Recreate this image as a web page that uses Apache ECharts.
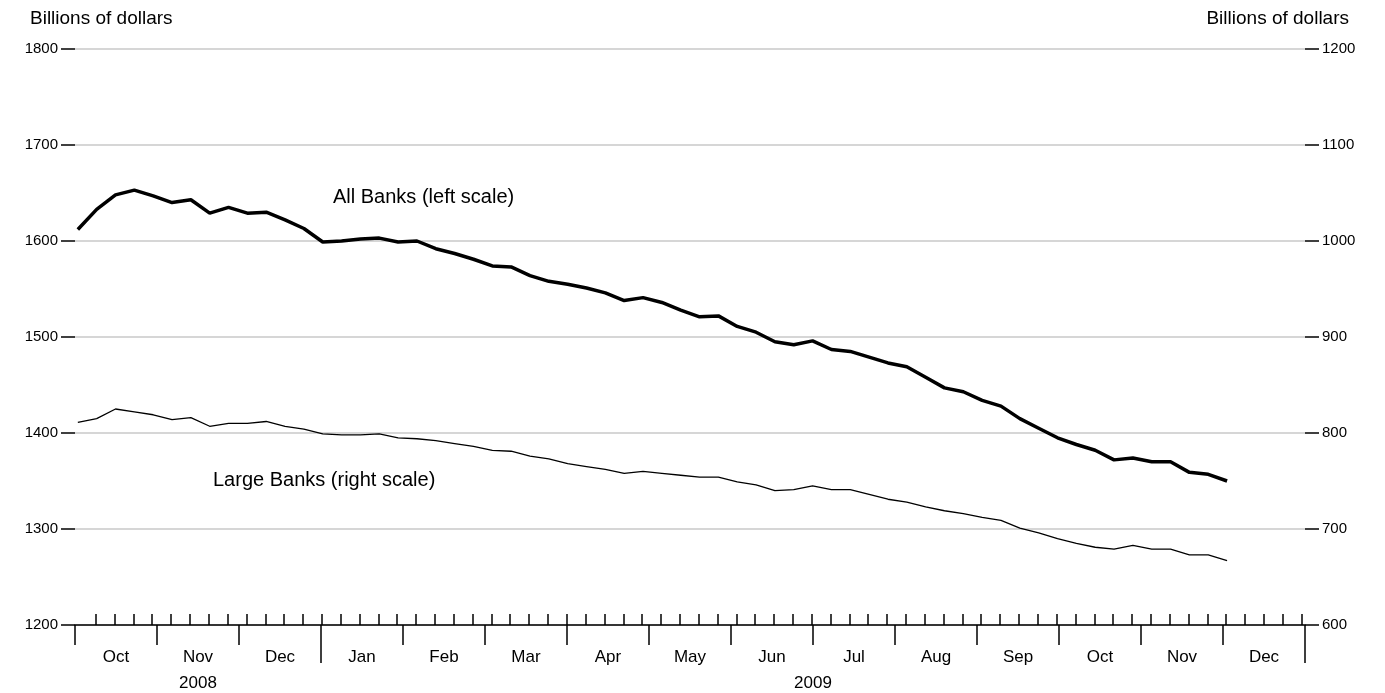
<!DOCTYPE html>
<html>
<head>
<meta charset="utf-8">
<script src="https://cdn.jsdelivr.net/npm/echarts@6/dist/echarts.min.js"></script>
<style>html,body{margin:0;padding:0;background:#fff}#chart{width:1385px;height:693px}</style>
</head>
<body>
<div id="chart"></div>
<script>
/*月份标签*/
var months = ['Oct', 'Nov', 'Dec', 'Jan', 'Feb', 'Mar', 'Apr', 'May', 'Jun', 'Jul', 'Aug', 'Sep', 'Oct', 'Nov', 'Dec'];
var years = [{pos: 1.5, label: '2008'}, {pos: 9, label: '2009'}];
/*全部银行 (左轴), 每周*/
var allBanks = [1612, 1633, 1648, 1653, 1647, 1640, 1643, 1629, 1635, 1629, 1630, 1622, 1613, 1599, 1600, 1602,
	1603, 1599, 1600, 1592, 1587, 1581, 1574, 1573, 1564, 1558, 1555, 1551, 1546, 1538, 1541, 1536, 1528, 1521,
	1522, 1511, 1505, 1495, 1492, 1496, 1487, 1485, 1479, 1473, 1469, 1458, 1447, 1443, 1434, 1428, 1415, 1405,
	1395, 1388, 1382, 1372, 1374, 1370, 1370, 1359, 1357, 1350];
/*大型银行 (右轴)*/
var largeBanks = [811, 815, 825, 822, 819, 814, 816, 807, 810, 810, 812, 807, 804, 799, 798, 798, 799, 795, 794,
	792, 789, 786, 782, 781, 776, 773, 768, 765, 762, 758, 760, 758, 756, 754, 754, 749, 746, 740, 741, 745, 741,
	741, 736, 731, 728, 723, 719, 716, 712, 709, 701, 696, 690, 685, 681, 679, 683, 679, 679, 673, 673, 667];

var totalWeeks = 457 / 7;
var weekTicks = [];
for(var w = 1.1; w < totalWeeks; w += 1) {
	weekTicks.push(w);
}
var monthTicks = [];
var monthLabelPos = [];
for(var m = 0; m <= months.length; m++) {
	monthTicks.push(m);
	if(m < months.length) monthLabelPos.push(m + 0.5);
}
function toPoints(arr) {
	return arr.map(function(v, i) { return [i + 0.15, v]; });
}
var font = 'Liberation Sans, Arial, sans-serif';
function yLabel() {
	return {color: '#000', fontSize: 15, fontFamily: font, margin: 17, formatter: function(v) { return String(v); }};
}
function yTick() {
	return {show: true, inside: false, length: 14, lineStyle: {color: '#000', width: 1.5}};
}

var chart = echarts.init(document.getElementById('chart'));
chart.setOption({
	animation: false,
	grid: {left: 75, right: 80, top: 49, bottom: 68},
	xAxis: [{
		type: 'value', min: 0, max: totalWeeks, position: 'bottom',
		axisLine: {show: true, lineStyle: {color: '#000', width: 1.5}},
		axisTick: {show: true, inside: true, length: 11, customValues: weekTicks, lineStyle: {color: '#000', width: 1.5}},
		axisLabel: {show: false}, splitLine: {show: false}
	}, {
		type: 'value', min: 0, max: months.length, position: 'bottom',
		axisLine: {show: false},
		axisTick: {show: true, length: 20, customValues: monthTicks, lineStyle: {color: '#000', width: 1.5}},
		axisLabel: {show: true, customValues: monthLabelPos, margin: 24, formatter: function(v) {
			return months[Math.floor(v)];
		}, color: '#000', fontSize: 17, fontFamily: font},
		splitLine: {show: false}
	}, {
		type: 'value', min: 0, max: months.length, position: 'bottom',
		axisLine: {show: false},
		axisTick: {show: true, length: 38, customValues: [3, 15], lineStyle: {color: '#000', width: 1.5}},
		axisLabel: {show: true, customValues: years.map(function(y) { return y.pos; }), margin: 50, formatter: function(v) {
			for(var i = 0; i < years.length; i++) if(years[i].pos === v) return years[i].label;
			return '';
		}, color: '#000', fontSize: 17, fontFamily: font},
		splitLine: {show: false}
	}],
	yAxis: [{
		type: 'value', min: 1200, max: 1800, interval: 100, position: 'left',
		axisLine: {show: false, onZero: false},
		axisTick: yTick(),
		axisLabel: yLabel(),
		splitLine: {show: true, lineStyle: {color: '#c8c8c8', width: 1.5}}
	}, {
		type: 'value', min: 600, max: 1200, interval: 100, position: 'right',
		axisLine: {show: false, onZero: false},
		axisTick: yTick(),
		axisLabel: yLabel(),
		splitLine: {show: false}
	}],
	graphic: [
		{type: 'text', left: 30, top: 9, style: {text: 'Billions of dollars', fill: '#000', font: '19px ' + font}},
		{type: 'text', right: 36, top: 9, style: {text: 'Billions of dollars', fill: '#000', font: '19px ' + font}},
		{type: 'text', left: 333, top: 187, style: {text: 'All Banks (left scale)', fill: '#000', font: '20px ' + font}},
		{type: 'text', left: 213, top: 470, style: {text: 'Large Banks (right scale)', fill: '#000', font: '20px ' + font}}
	],
	series: [{
		type: 'line', xAxisIndex: 0, yAxisIndex: 0, data: toPoints(allBanks),
		symbol: 'none', lineStyle: {color: '#000', width: 3.5}
	}, {
		type: 'line', xAxisIndex: 0, yAxisIndex: 1, data: toPoints(largeBanks),
		symbol: 'none', lineStyle: {color: '#000', width: 1.3}
	}]
});
</script>
</body>
</html>
